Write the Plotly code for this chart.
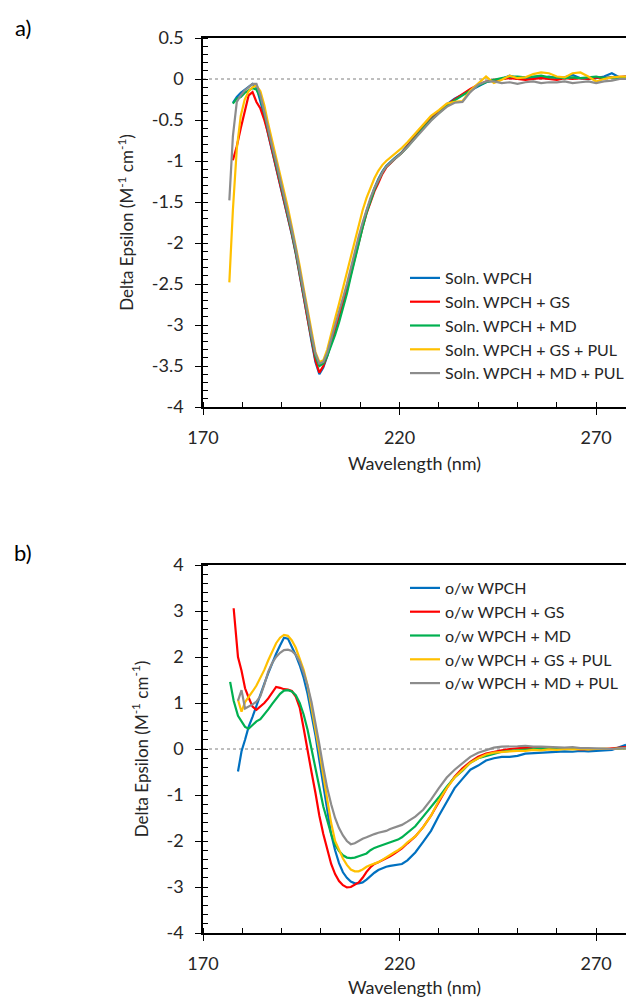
import plotly.graph_objects as go

# ---------------- data: panel a (solution) ----------------
wl_a = [176.7, 177.6, 178.6, 179.6, 180.6, 181.6, 182.6, 183.6, 184.6, 185.6,
        186.6, 187.6, 188.6, 189.6, 190.6, 191.6, 192.6, 193.6, 194.6, 195.6,
        196.6, 197.6, 198.6, 199.6, 200.6, 201.6, 202.6, 203.6, 204.6, 205.6,
        206.6, 207.6, 208.6, 209.6, 210.6, 211.6, 212.6, 213.6, 214.6, 215.6,
        216.6, 217.6, 218.6, 219.6, 220.6, 222, 224, 226, 228, 230,
        232, 234, 236, 238, 240, 242, 244, 246, 248, 250,
        252, 254, 256, 258, 260, 262, 264, 266, 268, 270,
        272, 274, 276, 277.6]

soln_wpch = [None, -0.29, -0.22, -0.17, -0.13, -0.09, -0.06, -0.10, -0.26, -0.45,
             -0.68, -0.88, -1.07, -1.27, -1.47, -1.68, -1.90, -2.13, -2.38, -2.66,
             -2.92, -3.20, -3.45, -3.60, -3.52, -3.38, -3.22, -3.05, -2.88, -2.72,
             -2.56, -2.35, -2.15, -1.96, -1.78, -1.61, -1.46, -1.33, -1.22, -1.13,
             -1.06, -1.01, -0.97, -0.93, -0.89, -0.81, -0.69, -0.58, -0.48, -0.39,
             -0.31, -0.24, -0.19, -0.13, -0.08, -0.04, -0.02, 0.00, 0.04, 0.01,
             0.00, 0.02, 0.01, 0.03, 0.01, 0.02, 0.05, 0.01, 0.00, 0.01,
             0.03, 0.07, 0.02, 0.03]

soln_wpch_gs = [None, -0.99, -0.82, -0.60, -0.38, -0.20, -0.16, -0.28, -0.36, -0.50,
                -0.67, -0.87, -1.06, -1.26, -1.46, -1.67, -1.89, -2.12, -2.37, -2.65,
                -2.92, -3.19, -3.43, -3.58, -3.50, -3.37, -3.21, -3.05, -2.90, -2.74,
                -2.58, -2.38, -2.18, -1.99, -1.81, -1.64, -1.50, -1.37, -1.27, -1.16,
                -1.08, -1.03, -0.98, -0.94, -0.90, -0.82, -0.70, -0.59, -0.49, -0.40,
                -0.32, -0.25, -0.18, -0.12, -0.07, -0.03, -0.01, 0.00, 0.01, 0.00,
                -0.01, 0.00, 0.01, 0.00, -0.01, 0.01, 0.00, 0.01, 0.00, 0.02,
                0.01, 0.02, 0.03, 0.03]

soln_wpch_md = [None, -0.30, -0.24, -0.22, -0.17, -0.14, -0.11, -0.13, -0.22, -0.42,
                -0.64, -0.85, -1.04, -1.24, -1.44, -1.65, -1.87, -2.10, -2.35, -2.62,
                -2.88, -3.15, -3.38, -3.50, -3.47, -3.38, -3.26, -3.12, -2.97, -2.80,
                -2.62, -2.41, -2.20, -2.00, -1.81, -1.63, -1.48, -1.35, -1.24, -1.14,
                -1.07, -1.02, -0.98, -0.94, -0.90, -0.83, -0.71, -0.60, -0.50, -0.41,
                -0.33, -0.26, -0.20, -0.14, -0.08, -0.04, -0.01, 0.01, 0.03, 0.03,
                0.02, 0.03, 0.04, 0.02, 0.02, 0.01, 0.02, 0.01, 0.02, 0.03,
                0.01, 0.02, 0.01, 0.02]

soln_wpch_gs_pul = [-2.48, -1.60, -0.85, -0.45, -0.25, -0.15, -0.10, -0.08, -0.15, -0.32,
                    -0.55, -0.75, -0.95, -1.15, -1.36, -1.57, -1.80, -2.03, -2.28, -2.55,
                    -2.82, -3.10, -3.33, -3.45, -3.43, -3.30, -3.10, -2.92, -2.74, -2.55,
                    -2.37, -2.17, -1.97, -1.78, -1.60, -1.45, -1.32, -1.21, -1.12, -1.05,
                    -1.00, -0.96, -0.92, -0.88, -0.84, -0.77, -0.66, -0.55, -0.45, -0.38,
                    -0.30, -0.28, -0.27, -0.14, -0.06, 0.03, -0.05, -0.01, 0.04, 0.01,
                    0.02, 0.06, 0.08, 0.07, 0.03, 0.02, 0.07, 0.08, 0.03, -0.03,
                    0.00, 0.02, 0.03, 0.03]

soln_wpch_md_pul = [-1.48, -0.70, -0.28, -0.20, -0.14, -0.10, -0.06, -0.06, -0.20, -0.40,
                    -0.62, -0.82, -1.01, -1.21, -1.41, -1.62, -1.84, -2.07, -2.32, -2.59,
                    -2.85, -3.12, -3.35, -3.47, -3.45, -3.34, -3.18, -3.01, -2.84, -2.67,
                    -2.50, -2.30, -2.10, -1.92, -1.75, -1.59, -1.45, -1.33, -1.23, -1.14,
                    -1.07, -1.02, -0.98, -0.94, -0.90, -0.83, -0.72, -0.61, -0.51, -0.42,
                    -0.34, -0.29, -0.28, -0.16, -0.07, -0.03, -0.03, -0.05, -0.04, -0.06,
                    -0.04, -0.03, -0.05, -0.04, -0.04, -0.03, -0.05, -0.04, -0.03, -0.05,
                    -0.03, -0.02, 0.00, 0.00]

# ---------------- data: panel b (o/w emulsion) ----------------
wl_b = [176.9, 177.8, 178.9, 179.8, 180.7, 181.6, 182.6, 183.6, 184.6, 185.6,
        186.6, 187.6, 188.6, 189.6, 190.6, 191.6, 192.6, 193.6, 194.6, 195.6,
        196.6, 197.6, 198.6, 199.6, 200.6, 201.6, 202.6, 203.6, 204.6, 205.6,
        206.6, 207.6, 208.6, 209.6, 210.6, 211.6, 212.6, 213.6, 214.6, 215.6,
        216.6, 217.6, 218.6, 219.6, 220.6, 222, 224, 226, 228, 230,
        232, 234, 236, 238, 240, 242, 244, 246, 248, 250,
        252, 254, 256, 258, 260, 262, 264, 266, 268, 270,
        272, 274, 276, 277.6]

ow_wpch = [None, None, -0.49, -0.05, 0.20, 0.48, 0.70, 0.95, 1.18, 1.42,
           1.65, 1.88, 2.07, 2.25, 2.42, 2.40, 2.22, 2.04, 1.82, 1.55,
           1.20, 0.78, 0.30, -0.25, -0.80, -1.35, -1.85, -2.20, -2.48, -2.68,
           -2.80, -2.88, -2.92, -2.92, -2.90, -2.84, -2.76, -2.69, -2.63, -2.59,
           -2.56, -2.54, -2.53, -2.52, -2.50, -2.42, -2.25, -2.02, -1.78, -1.45,
           -1.15, -0.85, -0.65, -0.45, -0.36, -0.25, -0.20, -0.17, -0.17, -0.15,
           -0.10, -0.09, -0.08, -0.06, -0.05, -0.05, -0.06, -0.04, -0.05, -0.04,
           -0.03, -0.02, 0.04, 0.09]

ow_wpch_gs = [None, 3.06, 2.00, 1.70, 1.32, 1.12, 0.92, 0.85, 0.92, 1.00,
              1.10, 1.22, 1.35, 1.33, 1.30, 1.29, 1.26, 1.14, 0.90, 0.45,
              -0.05, -0.50, -0.95, -1.45, -1.85, -2.20, -2.50, -2.72, -2.87, -2.96,
              -3.01, -3.00, -2.95, -2.90, -2.80, -2.67, -2.57, -2.50, -2.46, -2.42,
              -2.38, -2.33, -2.28, -2.22, -2.16, -2.05, -1.90, -1.70, -1.45, -1.15,
              -0.85, -0.60, -0.42, -0.28, -0.17, -0.10, -0.06, -0.03, 0.00, 0.02,
              0.03, 0.02, 0.04, 0.01, 0.02, 0.00, 0.01, -0.01, 0.00, 0.00,
              0.00, 0.01, 0.02, 0.04]

ow_wpch_md = [1.46, 1.05, 0.72, 0.60, 0.48, 0.44, 0.52, 0.60, 0.65, 0.75,
              0.86, 0.98, 1.10, 1.20, 1.27, 1.28, 1.25, 1.17, 1.00, 0.75,
              0.42, 0.00, -0.45, -0.85, -1.25, -1.55, -1.85, -2.08, -2.22, -2.31,
              -2.36, -2.37, -2.36, -2.33, -2.30, -2.27, -2.20, -2.15, -2.12, -2.09,
              -2.06, -2.03, -2.00, -1.97, -1.92, -1.82, -1.68, -1.47, -1.27, -1.05,
              -0.82, -0.62, -0.47, -0.30, -0.20, -0.15, -0.10, -0.06, -0.04, -0.03,
              -0.02, 0.00, 0.01, 0.00, 0.01, 0.00, 0.01, 0.02, 0.00, 0.00,
              -0.01, 0.00, 0.01, 0.02]

ow_wpch_gs_pul = [None, None, 1.07, 0.81, 1.02, 1.12, 1.25, 1.38, 1.55, 1.72,
                  1.93, 2.12, 2.30, 2.42, 2.48, 2.46, 2.36, 2.20, 1.98, 1.72,
                  1.38, 0.92, 0.45, -0.05, -0.58, -1.10, -1.61, -2.00, -2.20, -2.38,
                  -2.52, -2.62, -2.66, -2.66, -2.62, -2.56, -2.52, -2.49, -2.46, -2.41,
                  -2.35, -2.29, -2.25, -2.20, -2.14, -2.03, -1.90, -1.70, -1.45, -1.12,
                  -0.85, -0.62, -0.45, -0.30, -0.20, -0.12, -0.08, -0.06, -0.05, -0.04,
                  -0.04, -0.02, -0.03, -0.01, -0.02, 0.00, -0.01, 0.00, -0.01, 0.00,
                  0.01, 0.00, 0.01, 0.02]

ow_wpch_md_pul = [None, None, 1.05, 1.28, 0.88, 0.92, 0.97, 1.03, 1.15, 1.40,
                  1.68, 1.87, 2.00, 2.09, 2.15, 2.16, 2.13, 2.05, 1.90, 1.66,
                  1.38, 1.02, 0.60, 0.10, -0.40, -0.85, -1.20, -1.50, -1.72, -1.88,
                  -2.00, -2.07, -2.05, -2.00, -1.95, -1.92, -1.88, -1.85, -1.82, -1.80,
                  -1.78, -1.74, -1.71, -1.68, -1.65, -1.58, -1.47, -1.32, -1.10, -0.85,
                  -0.62, -0.45, -0.30, -0.17, -0.08, -0.02, 0.03, 0.05, 0.05, 0.06,
                  0.07, 0.05, 0.05, 0.04, 0.04, 0.03, 0.04, 0.02, 0.02, 0.02,
                  0.01, 0.00, 0.01, 0.02]

names_a = ["Soln. WPCH", "Soln. WPCH + GS", "Soln. WPCH + MD",
           "Soln. WPCH + GS + PUL", "Soln. WPCH + MD + PUL"]
names_b = ["o/w WPCH", "o/w WPCH + GS", "o/w WPCH + MD",
           "o/w WPCH + GS + PUL", "o/w WPCH + MD + PUL"]
series_a = [soln_wpch, soln_wpch_gs, soln_wpch_md, soln_wpch_gs_pul, soln_wpch_md_pul]
series_b = [ow_wpch, ow_wpch_gs, ow_wpch_md, ow_wpch_gs_pul, ow_wpch_md_pul]
colors = ["#0070C0", "#FF0000", "#00B050", "#FFC000", "#8C8C8C"]

x_ticks = [170, 220, 270]
x_ticktext = ["170", "220", "270"]
ya_ticks = [0.5, 0, -0.5, -1, -1.5, -2, -2.5, -3, -3.5, -4]
ya_ticktext = ["0.5", "0", "-0.5", "-1", "-1.5", "-2", "-2.5", "-3", "-3.5", "-4"]
yb_ticks = [4, 3, 2, 1, 0, -1, -2, -3, -4]
yb_ticktext = ["4", "3", "2", "1", "0", "-1", "-2", "-3", "-4"]

FONT = "Lato"
TXT = "#262626"

fig = go.Figure()
for name, ys, c in zip(names_a, series_a, colors):
    fig.add_trace(go.Scatter(x=wl_a, y=ys, name=name, mode="lines",
                             line=dict(color=c, width=2.2), connectgaps=False,
                             xaxis="x", yaxis="y", legend="legend"))
for name, ys, c in zip(names_b, series_b, colors):
    fig.add_trace(go.Scatter(x=wl_b, y=ys, name=name, mode="lines",
                             line=dict(color=c, width=2.2), connectgaps=False,
                             xaxis="x2", yaxis="y2", legend="legend2"))

W, H = 626, 998
ML, MR, MT, MB = 203, 0, 38, 65
ph = H - MT - MB

def ydom(top_px, bot_px):
    return [(H - MB - bot_px) / ph, (H - MB - top_px) / ph]

xcommon = dict(range=[170, 277.6], tickmode="array", tickvals=x_ticks, ticktext=x_ticktext,
               showline=True, linecolor="black", linewidth=1.5, mirror=True,
               ticks="outside", ticklen=6, tickwidth=1.2, tickcolor="black",
               ticklabelstandoff=8,
               minor=dict(ticks="inside", dtick=10, tick0=170, ticklen=5, tickwidth=1.2,
                          tickcolor="black", showgrid=False),
               showgrid=False, zeroline=False,
               tickfont=dict(family=FONT, size=18, color=TXT),
               title=dict(text="Wavelength (nm)", font=dict(family=FONT, size=18, color=TXT),
                          standoff=10))
ycommon = dict(showline=True, linecolor="black", linewidth=1.5, mirror=False,
               ticks="outside", ticklen=6, tickwidth=1.2, tickcolor="black",
               ticklabelstandoff=8,
               showgrid=False, zeroline=False, tickmode="array",
               tickfont=dict(family=FONT, size=18, color=TXT),
               title=dict(text="Delta Epsilon (M<sup>-1</sup> cm<sup>-1</sup>)",
                          font=dict(family=FONT, size=17, color=TXT), standoff=14))

fig.update_layout(
    width=W, height=H, margin=dict(l=ML, r=MR, t=MT, b=MB, autoexpand=False),
    paper_bgcolor="white", plot_bgcolor="white",
    xaxis=dict(xcommon, anchor="y", domain=[0, 1]),
    yaxis=dict(ycommon, anchor="x", domain=ydom(38, 407), range=[-4, 0.5],
               tickvals=ya_ticks, ticktext=ya_ticktext,
               minor=dict(ticks="inside", dtick=0.1, tick0=0, ticklen=5, tickwidth=1.2,
                          tickcolor="black", showgrid=False)),
    xaxis2=dict(xcommon, anchor="y2", domain=[0, 1]),
    yaxis2=dict(ycommon, anchor="x2", domain=ydom(565, 933), range=[-4, 4],
                tickvals=yb_ticks, ticktext=yb_ticktext,
                minor=dict(ticks="inside", dtick=0.2, tick0=0, ticklen=5, tickwidth=1.2,
                           tickcolor="black", showgrid=False)),
    legend=dict(xref="container", yref="container", x=405 / W, y=1 - 261 / H,
                xanchor="left", yanchor="top", bgcolor="rgba(0,0,0,0)",
                font=dict(family=FONT, size=16, color=TXT), itemwidth=30,
                tracegroupgap=0),
    legend2=dict(xref="container", yref="container", x=405 / W, y=1 - 571 / H,
                 xanchor="left", yanchor="top", bgcolor="rgba(0,0,0,0)",
                 font=dict(family=FONT, size=16, color=TXT), itemwidth=30,
                 tracegroupgap=0),
    showlegend=True,
    shapes=[
        dict(type="line", xref="x domain", yref="y", x0=0, x1=1, y0=0, y1=0,
             line=dict(color="#7F7F7F", width=1, dash="dot"), layer="below"),
        dict(type="line", xref="x2 domain", yref="y2", x0=0, x1=1, y0=0, y1=0,
             line=dict(color="#7F7F7F", width=1, dash="dot"), layer="below"),
    ],
    annotations=[
        dict(text="a)", xref="paper", yref="paper", x=(23 - ML) / (W - ML - MR),
             y=(H - MB - 27) / ph, showarrow=False, xanchor="center", yanchor="middle",
             font=dict(family=FONT, size=22, color="black")),
        dict(text="b)", xref="paper", yref="paper", x=(23 - ML) / (W - ML - MR),
             y=(H - MB - 552) / ph, showarrow=False, xanchor="center", yanchor="middle",
             font=dict(family=FONT, size=22, color="black")),
    ],
)

fig.write_html("out.html")
